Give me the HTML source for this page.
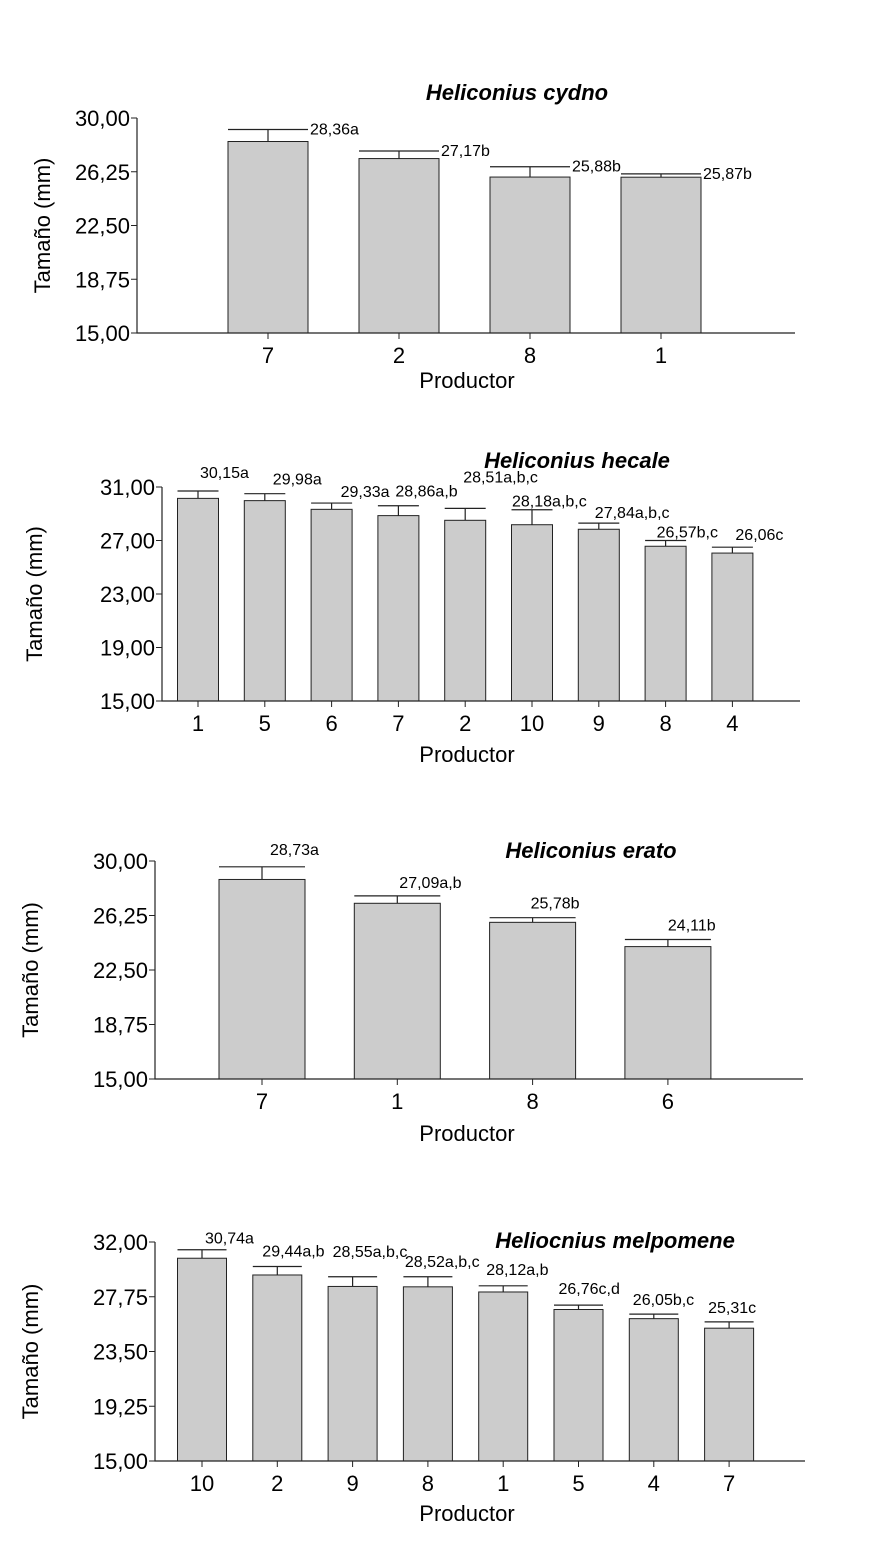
<!DOCTYPE html>
<html><head><meta charset="utf-8"><style>
body{margin:0;background:#fff;}
svg{display:block;font-family:"Liberation Sans",Arial,sans-serif;}
</style></head><body>
<svg id="svg" width="883" height="1553"></svg>
<script>
// Chart 1: Heliconius cydno
const c1Cats=["7","2","8","1"];
const c1Vals=[28.36,27.17,25.88,25.87];
const c1Err=[29.2,27.7,26.6,26.1];
const c1Labels=["28,36a","27,17b","25,88b","25,87b"];
const c1Ticks=[15,18.75,22.5,26.25,30];
const c1TickLabels=["15,00","18,75","22,50","26,25","30,00"];
// Chart 2: Heliconius hecale
const c2Cats=["1","5","6","7","2","10","9","8","4"];
const c2Vals=[30.15,29.98,29.33,28.86,28.51,28.18,27.84,26.57,26.06];
const c2Err=[30.7,30.5,29.8,29.6,29.4,29.3,28.3,27.0,26.5];
const c2Labels=["30,15a","29,98a","29,33a","28,86a,b","28,51a,b,c","28,18a,b,c","27,84a,b,c","26,57b,c","26,06c"];
const c2Ticks=[15,19,23,27,31];
const c2TickLabels=["15,00","19,00","23,00","27,00","31,00"];
// Chart 3: Heliconius erato
const c3Cats=["7","1","8","6"];
const c3Vals=[28.73,27.09,25.78,24.11];
const c3Err=[29.6,27.6,26.1,24.6];
const c3Labels=["28,73a","27,09a,b","25,78b","24,11b"];
const c3Ticks=[15,18.75,22.5,26.25,30];
const c3TickLabels=["15,00","18,75","22,50","26,25","30,00"];
// Chart 4: Heliocnius melpomene
const c4Cats=["10","2","9","8","1","5","4","7"];
const c4Vals=[30.74,29.44,28.55,28.52,28.12,26.76,26.05,25.31];
const c4Err=[31.4,30.1,29.3,29.3,28.6,27.1,26.4,25.8];
const c4Labels=["30,74a","29,44a,b","28,55a,b,c","28,52a,b,c","28,12a,b","26,76c,d","26,05b,c","25,31c"];
const c4Ticks=[15,19.25,23.5,27.75,32];
const c4TickLabels=["15,00","19,25","23,50","27,75","32,00"];

const NS="http://www.w3.org/2000/svg";
const svg=document.getElementById('svg');
function mk(tag,attrs,parent){const e=document.createElementNS(NS,tag);for(const k in attrs)e.setAttribute(k,attrs[k]);(parent||svg).appendChild(e);return e;}

const layouts=[
 {cats:c1Cats,vals:c1Vals,err:c1Err,labels:c1Labels,ticks:c1Ticks,tl:c1TickLabels,ax:137,axEnd:795,yTop:118,yBot:333,first:268,step:131,bw:80,title:"Heliconius cydno",tx:517,ty:100,ytx:50,xtY:388,mode:"right",
  dx:[0,0,0,0],dy:[5,5,5,5]},
 {cats:c2Cats,vals:c2Vals,err:c2Err,labels:c2Labels,ticks:c2Ticks,tl:c2TickLabels,ax:162,axEnd:800,yTop:487,yBot:701,first:198,step:66.8,bw:41,title:"Heliconius hecale",tx:577,ty:468,ytx:42,xtY:762,mode:"start",
  dx:[2,8,9,-3,-2,-20,-4,-9,3],dy:[-13,-9,-6,-9,-26,-3,-5,-3,-7]},
 {cats:c3Cats,vals:c3Vals,err:c3Err,labels:c3Labels,ticks:c3Ticks,tl:c3TickLabels,ax:155,axEnd:803,yTop:861,yBot:1079,first:262,step:135.3,bw:86,title:"Heliconius erato",tx:591,ty:858,ytx:38,xtY:1141,mode:"start",
  dx:[8,2,-2,0],dy:[-12,-8,-9,-9]},
 {cats:c4Cats,vals:c4Vals,err:c4Err,labels:c4Labels,ticks:c4Ticks,tl:c4TickLabels,ax:155,axEnd:805,yTop:1242,yBot:1461,first:202,step:75.3,bw:49,title:"Heliocnius melpomene",tx:615,ty:1248,ytx:38,xtY:1521,mode:"start",
  dx:[3,-15,-20,-23,-17,-20,-21,-21],dy:[-6,-10,-20,-10,-11,-11,-9,-9]}
];

layouts.forEach((L,ci)=>{
 const g=mk('g',{});
 
 
 const t0=L.ticks[0],t1=L.ticks[L.ticks.length-1];
 const y=v=>L.yBot-(v-t0)/(t1-t0)*(L.yBot-L.yTop);
 const x=i=>L.first+i*L.step;
 const tt=mk('text',{x:L.tx,y:L.ty,'text-anchor':'middle','font-size':22,'font-weight':'bold','font-style':'italic'},g);
 tt.textContent=L.title;
 
 
 L.vals.forEach((v,i)=>{
  const cx=x(i);
  const r=mk('rect',{x:cx-L.bw/2,y:y(v),width:L.bw,height:L.yBot-y(v),fill:'#cccccc',stroke:'#222','stroke-width':1},g);
  
  
  const e=mk('path',{d:`M${cx},${y(v)}V${y(L.err[i])}M${cx-L.bw/2},${y(L.err[i])}H${cx+L.bw/2}`,stroke:'#222','stroke-width':1.2,fill:'none'},g);
  
  
  const lx=L.mode==='right'?cx+L.bw/2+2:cx+L.dx[i];
  const lb=mk('text',{x:lx,y:y(L.err[i])+L.dy[i],'font-size':16},g);
  lb.textContent=L.labels[i];
  
  
  const xl=mk('text',{x:cx,y:L.yBot+30,'text-anchor':'middle','font-size':22},g);
  xl.textContent=L.cats[i];
  
  
  mk('line',{x1:cx,x2:cx,y1:L.yBot,y2:L.yBot+6,stroke:'#222'},g);
 });
 const ax=mk('path',{d:`M${L.ax},${L.yTop}V${L.yBot}H${L.axEnd}`,stroke:'#222','stroke-width':1.2,fill:'none'},g);
 
 
 L.ticks.forEach((t,i)=>{
  mk('line',{x1:L.ax-6,x2:L.ax,y1:y(t),y2:y(t),stroke:'#222'},g);
  const tl=mk('text',{x:L.ax-7,y:y(t)+8,'text-anchor':'end','font-size':22},g);
  tl.textContent=L.tl[i];
  
  
 });
 const yt=mk('text',{x:0,y:0,transform:`translate(${L.ytx},${(L.yTop+L.yBot)/2}) rotate(-90)`,'text-anchor':'middle','font-size':22},g);
 yt.textContent='Tamaño (mm)';
 
 
 const xt=mk('text',{x:467,y:L.xtY,'text-anchor':'middle','font-size':22},g);
 xt.textContent='Productor';
 
 
});
</script>
</body></html>
